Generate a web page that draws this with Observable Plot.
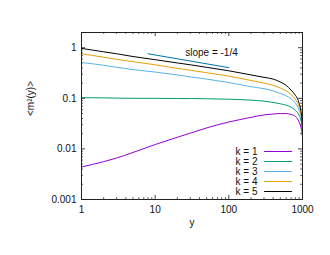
<!DOCTYPE html>
<html>
<head>
<meta charset="utf-8">
<script src="https://cdn.jsdelivr.net/npm/d3@7"></script>
<script src="https://cdn.jsdelivr.net/npm/@observablehq/plot@0.6"></script>
<style>
  html, body { margin: 0; padding: 0; background: #fff; }
  #chart { width: 330px; height: 255px; }
</style>
</head>
<body>
<div id="chart"></div>
<script>
// ---- data ----
const yPos = [1, 2, 3, 5, 10, 20, 30, 50, 100, 200, 300, 400, 500, 600, 700, 800, 850, 900, 950, 980, 1000];
const k1 = [0.0044, 0.0056, 0.0066, 0.0085, 0.0122, 0.017, 0.0205, 0.026, 0.034, 0.042, 0.047, 0.049, 0.05, 0.05, 0.048, 0.044, 0.04, 0.034, 0.027, 0.022, 0.017];
const k2 = [0.103, 0.102, 0.101, 0.1, 0.1, 0.099, 0.099, 0.098, 0.096, 0.092, 0.088, 0.083, 0.078, 0.073, 0.067, 0.058, 0.053, 0.046, 0.037, 0.03, 0.02];
const k3 = [0.51, 0.45, 0.41, 0.37, 0.33, 0.29, 0.265, 0.24, 0.205, 0.17, 0.155, 0.14, 0.125, 0.112, 0.098, 0.08, 0.07, 0.058, 0.044, 0.033, 0.02];
const k4 = [0.76, 0.65, 0.59, 0.53, 0.46, 0.39, 0.36, 0.32, 0.275, 0.225, 0.2, 0.18, 0.16, 0.14, 0.12, 0.095, 0.083, 0.068, 0.05, 0.036, 0.02];
const k5 = [0.97, 0.83, 0.76, 0.67, 0.58, 0.50, 0.46, 0.41, 0.35, 0.29, 0.26, 0.24, 0.21, 0.18, 0.145, 0.115, 0.10, 0.08, 0.058, 0.04, 0.02];
const seriesNames = ["k = 1", "k = 2", "k = 3", "k = 4", "k = 5"];
const seriesValues = [k1, k2, k3, k4, k5];
const seriesColors = ["#9400d3", "#009e73", "#56b4e9", "#e69f00", "#000000"];
const slopeX = [8, 100];
const slopeY = [0.76, 0.404];
const slopeLabel = "slope = -1/4";
const slopeLabelX = 25.6;
const slopeLabelY = 0.79;
const xTicks = [1, 10, 100, 1000];
const xTickLabels = ["1", "10", "100", "1000"];
const yTicks = [0.001, 0.01, 0.1, 1];
const yTickLabels = ["0.001", "0.01", "0.1", "1"];
const xLabel = "y";
const yLabel = "<m²(y)>";

// ---- layout ----
const W = 330, H = 255;
const mL = 81, mR = 28, mT = 32, mB = 56;
const pw = W - mL - mR, ph = H - mT - mB;
const font = "'Liberation Sans', Arial, sans-serif";
const xDomain = [1, 1000], yDomain = [0.001, 2];

const rows = [];
seriesValues.forEach((vals, i) => {
  vals.forEach((v, j) => rows.push({x: yPos[j], y: v, s: seriesNames[i]}));
});
const slopeData = slopeX.map((x, i) => ({x, y: slopeY[i]}));

// legend placement via the same scales (pixel -> data)
const sx = Plot.scale({x: {type: "log", domain: xDomain, range: [mL, W - mR]}});
const sy = Plot.scale({y: {type: "log", domain: yDomain, range: [H - mB, mT]}});
const legRows = [], legText = [];
seriesNames.forEach((name, i) => {
  const yy = sy.invert(151 + 10 * i);
  legRows.push({x: sx.invert(264), y: yy, s: name});
  legRows.push({x: sx.invert(291), y: yy, s: name});
  legText.push({x: sx.invert(257), y: yy, s: name});
});

// minor ticks (2..9 in each decade)
const xMinor = [];
for (let d = 0; d < 3; d++) for (let m = 2; m <= 9; m++) xMinor.push(m * xTicks[d]);
const yMinor = [];
for (let d = 0; d < 4; d++) for (let m = 2; m <= 9; m++) { const v = m * yTicks[d]; if (v <= 2) yMinor.push(v); }

const tickColor = "#444";
const plot = Plot.plot({
  width: W, height: H,
  marginLeft: mL, marginRight: mR, marginTop: mT, marginBottom: mB,
  style: {fontFamily: font, fontSize: "10px", color: "#111", background: "#fff"},
  x: {type: "log", domain: xDomain},
  y: {type: "log", domain: yDomain},
  color: {domain: seriesNames, range: seriesColors},
  marks: [
    Plot.axisX(xTicks, {tickSize: 0, tickPadding: 6, tickFormat: (d) => xTickLabels[xTicks.indexOf(d)], label: null, fontSize: 10}),
    Plot.axisY(yTicks, {tickSize: 0, tickPadding: 5, tickFormat: (d) => yTickLabels[yTicks.indexOf(d)], label: null, fontSize: 10}),
    // inward ticks, all four sides
    Plot.tickX(xMinor, {x: d => d, insetTop: ph - 2, stroke: tickColor, strokeWidth: 0.8}),
    Plot.tickX(xMinor, {x: d => d, insetBottom: ph - 2, stroke: tickColor, strokeWidth: 0.8}),
    Plot.tickX(xTicks, {x: d => d, insetTop: ph - 4, stroke: tickColor}),
    Plot.tickX(xTicks, {x: d => d, insetBottom: ph - 4, stroke: tickColor}),
    Plot.tickY(yMinor, {y: d => d, insetRight: pw - 2, stroke: tickColor, strokeWidth: 0.8}),
    Plot.tickY(yMinor, {y: d => d, insetLeft: pw - 2, stroke: tickColor, strokeWidth: 0.8}),
    Plot.tickY(yTicks, {y: d => d, insetRight: pw - 4, stroke: tickColor}),
    Plot.tickY(yTicks, {y: d => d, insetLeft: pw - 4, stroke: tickColor}),
    Plot.line(rows, {x: "x", y: "y", z: "s", stroke: "s", strokeWidth: 1, curve: "monotone-x", clip: true}),
    Plot.line(slopeData, {x: "x", y: "y", stroke: "#0072b2", strokeWidth: 1}),
    Plot.text([slopeLabel], {x: () => slopeLabelX, y: () => slopeLabelY, text: d => d, textAnchor: "start", fill: "#111"}),
    Plot.text([xLabel], {frameAnchor: "bottom", dy: 26, text: d => d, fill: "#111"}),
    Plot.text([yLabel], {frameAnchor: "left", dx: -51, rotate: -90, text: d => d, fill: "#111"}),
    // legend
    Plot.line(legRows, {x: "x", y: "y", z: "s", stroke: "s", strokeWidth: 1}),
    Plot.text(legText, {x: "x", y: "y", text: "s", textAnchor: "end", fill: "#111"}),
    Plot.frame({stroke: "#222", strokeWidth: 1})
  ]
});
document.getElementById("chart").appendChild(plot);
</script>
</body>
</html>
